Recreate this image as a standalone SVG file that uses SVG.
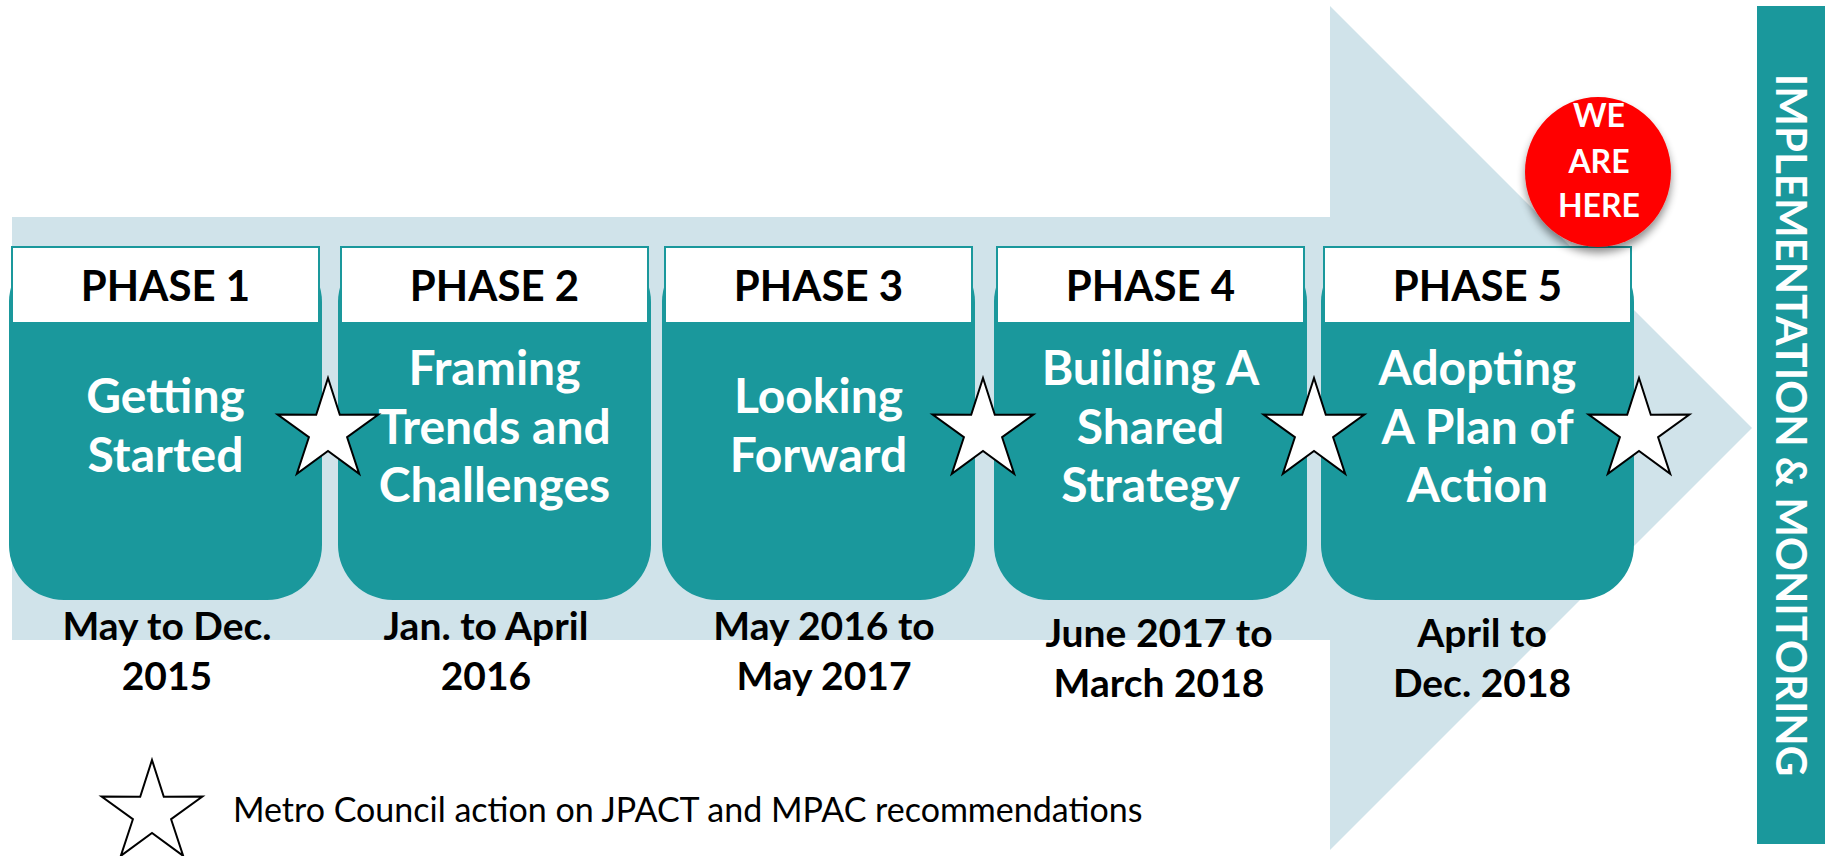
<svg xmlns="http://www.w3.org/2000/svg" width="1825" height="856" viewBox="0 0 1825 856">
  <defs>
    <style>
      .body { fill: #1A989C; }
      .head { fill: #FFFFFF; stroke: #1A989C; stroke-width: 2; }
      .ph { font-family: Lato, "Open Sans", sans-serif; font-weight: 700; font-size: 42px; fill: #000; text-anchor: middle; }
      .main { font-family: Lato, "Open Sans", sans-serif; font-weight: 700; font-size: 48px; fill: #FFFFFF; text-anchor: middle; }
      .date { font-family: Lato, "Open Sans", sans-serif; font-weight: 700; font-size: 39px; fill: #000; text-anchor: middle; }
      .star { fill: #FFFFFF; stroke: #000; stroke-width: 2; stroke-linejoin: miter; }
      .legend { font-family: Lato, "Open Sans", sans-serif; font-weight: 400; font-size: 34px; fill: #000; }
      .here { font-family: Lato, "Open Sans", sans-serif; font-weight: 700; font-size: 32px; fill: #FFFFFF; text-anchor: middle; }
      .vert { font-family: Lato, "Open Sans", sans-serif; font-weight: 700; font-size: 42px; fill: #FFFFFF; text-anchor: middle; }
    </style>
    <path id="starShape" d="M0,-53 L11.8,-16.2 L50.4,-16.4 L19.1,6.2 L31.2,42.9 L0,20 L-31.2,42.9 L-19.1,6.2 L-50.4,-16.4 L-11.8,-16.2 Z"/>
    <filter id="shadow" x="-30%" y="-30%" width="160%" height="170%">
      <feGaussianBlur in="SourceAlpha" stdDeviation="4"/>
      <feOffset dx="0" dy="6" result="b"/>
      <feComponentTransfer><feFuncA type="linear" slope="0.45"/></feComponentTransfer>
      <feMerge><feMergeNode/><feMergeNode in="SourceGraphic"/></feMerge>
    </filter>
  </defs>

  <rect width="1825" height="856" fill="#FFFFFF"/>

  <g id="timeline-arrow">
    <polygon points="12,217 1330,217 1330,6 1752,428 1330,850 1330,640 12,640" fill="#D0E3EA"/>
  </g>

  <g id="connectors"></g>

  <g id="phase1">
    <rect class="body" x="9" y="247" width="313" height="353" rx="55"/>
    <rect class="head" x="12" y="247" width="307" height="76"/>
    <text class="ph" x="165.5" y="301">PHASE 1</text>
    <text class="main" x="165.5" y="413">Getting</text>
    <text class="main" x="165.5" y="472">Started</text>
    <text class="date" x="167" y="640">May to Dec.</text>
    <text class="date" x="167" y="690">2015</text>
  </g>

  <g id="phase2">
    <rect class="body" x="338" y="247" width="313" height="353" rx="55"/>
    <rect class="head" x="341" y="247" width="307" height="76"/>
    <text class="ph" x="494.5" y="301">PHASE 2</text>
    <text class="main" x="494.5" y="385">Framing</text>
    <text class="main" x="494.5" y="443.5">Trends and</text>
    <text class="main" x="494.5" y="502">Challenges</text>
    <text class="date" x="486" y="640">Jan. to April</text>
    <text class="date" x="486" y="690">2016</text>
  </g>

  <g id="phase3">
    <rect class="body" x="662" y="247" width="313" height="353" rx="55"/>
    <rect class="head" x="665" y="247" width="307" height="76"/>
    <text class="ph" x="818.5" y="301">PHASE 3</text>
    <text class="main" x="818.5" y="413">Looking</text>
    <text class="main" x="818.5" y="472">Forward</text>
    <text class="date" x="824" y="640">May 2016 to</text>
    <text class="date" x="824" y="690">May 2017</text>
  </g>

  <g id="phase4">
    <rect class="body" x="994" y="247" width="313" height="353" rx="55"/>
    <rect class="head" x="997" y="247" width="307" height="76"/>
    <text class="ph" x="1150.5" y="301">PHASE 4</text>
    <text class="main" x="1150.5" y="385">Building A</text>
    <text class="main" x="1150.5" y="443.5">Shared</text>
    <text class="main" x="1150.5" y="502">Strategy</text>
    <text class="date" x="1159" y="647">June 2017 to</text>
    <text class="date" x="1159" y="697">March 2018</text>
  </g>

  <g id="phase5">
    <rect class="body" x="1321" y="247" width="313" height="353" rx="55"/>
    <rect class="head" x="1324" y="247" width="307" height="76"/>
    <text class="ph" x="1477.5" y="301">PHASE 5</text>
    <text class="main" x="1477.5" y="385">Adopting</text>
    <text class="main" x="1477.5" y="443.5">A Plan of</text>
    <text class="main" x="1477.5" y="502">Action</text>
    <text class="date" x="1482" y="647">April to</text>
    <text class="date" x="1482" y="697">Dec. 2018</text>
  </g>

  <g id="stars">
    <use href="#starShape" class="star" transform="translate(328,431)"/>
    <use href="#starShape" class="star" transform="translate(983,431)"/>
    <use href="#starShape" class="star" transform="translate(1314,431)"/>
    <use href="#starShape" class="star" transform="translate(1639,431)"/>
  </g>

  <g id="we-are-here">
    <ellipse cx="1598" cy="172" rx="73" ry="75" fill="#FF0000" filter="url(#shadow)"/>
    <text class="here" x="1599" y="127">WE</text>
    <text class="here" x="1599" y="173">ARE</text>
    <text class="here" x="1599" y="217">HERE</text>
  </g>

  <g id="implementation-bar">
    <rect x="1757" y="6" width="68" height="838" fill="#1A989C"/>
    <text class="vert" transform="translate(1776,425) rotate(90)" x="0" y="0">IMPLEMENTATION &amp; MONITORING</text>
  </g>

  <g id="legend">
    <use href="#starShape" transform="translate(152,813)" fill="none" stroke="#000" stroke-width="2"/>
    <text class="legend" x="233" y="822">Metro Council action on JPACT and MPAC recommendations</text>
  </g>
</svg>
